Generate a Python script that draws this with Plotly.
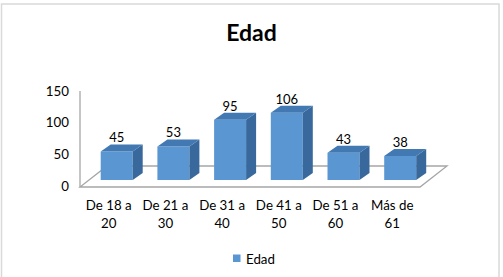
import plotly.graph_objects as go

# ---- data ----
categories = ["De 18 a<br>20", "De 21 a<br>30", "De 31 a<br>40", "De 41 a<br>50", "De 51 a<br>60", "Más de<br>61"]
values = [45, 53, 95, 106, 43, 38]
series_name = "Edad"
y_tickvals = [0, 50, 100, 150]

# ---- style / geometry (pixels) ----
W, H = 503, 277
L, R, T, B = 78, 43, 60, 87
PX_PER_CAT = 56.7
FIRST_CENTER_PX = 116.7
PX_PER_UNIT = 95 / 150
ZERO_PX = 180
BAR_W_PX = 32
DEPTH_X_PX, DEPTH_Y_PX = 10, 7
LABEL_DROP_PX = 1

FRONT = "#5A97D2"
TOP = "#4279B3"
SIDE = "#39699C"
LINE = "#A6A6A6"
FONT = "Lato"
TXT = "#000000"

pw, ph = W - L - R, H - T - B
x_min = (L - FIRST_CENTER_PX) / PX_PER_CAT
x_max = x_min + pw / PX_PER_CAT
y_max = (ZERO_PX - T) / PX_PER_UNIT
y_min = y_max - ph / PX_PER_UNIT

def xd(px):
    return (px - FIRST_CENTER_PX) / PX_PER_CAT

def yd(py):
    return (ZERO_PX - py) / PX_PER_UNIT

def xp(px):
    return (px - L) / pw

def yp(py):
    return (H - B - py) / ph

bw = BAR_W_PX / PX_PER_CAT
dx = DEPTH_X_PX / PX_PER_CAT
dy = DEPTH_Y_PX / PX_PER_UNIT
xs = list(range(len(values)))

# faces
top_x, top_y, side_x, side_y = [], [], [], []
for i, v in zip(xs, values):
    a, b = i - bw / 2, i + bw / 2
    top_x += [a, b, b + dx, a + dx, a, None]
    top_y += [v, v, v + dy, v + dy, v, None]
    side_x += [b, b + dx, b + dx, b, b, None]
    side_y += [0, dy, v + dy, v, 0, None]

fig = go.Figure()
fig.add_trace(go.Bar(x=xs, y=values, width=bw, marker=dict(color=FRONT, line=dict(width=0)),
                     showlegend=False, hoverinfo="skip"))
fig.add_trace(go.Scatter(x=side_x, y=side_y, fill="toself", fillcolor=SIDE, mode="lines",
                         line=dict(width=0, color=SIDE), showlegend=False, hoverinfo="skip"))
fig.add_trace(go.Scatter(x=top_x, y=top_y, fill="toself", fillcolor=TOP, mode="lines",
                         line=dict(width=0, color=TOP), showlegend=False, hoverinfo="skip"))
fig.add_trace(go.Scatter(x=xs, y=[v + dy - LABEL_DROP_PX / PX_PER_UNIT for v in values], mode="text",
                         text=[str(v) for v in values], textposition="top center",
                         textfont=dict(family=FONT, size=13, color=TXT), showlegend=False,
                         hoverinfo="skip", cliponaxis=False))

# floor & wall lines
fl, fr = xd(80), xd(420)
bl, br = xd(107), xd(447)
yf, yb = yd(187), yd(166)
shapes = [
    dict(type="path", xref="x", yref="y", layer="below",
         path=f"M{fl},{yf} L{fr},{yf} L{br},{yb} L{bl},{yb} Z",
         line=dict(color=LINE, width=1.3), fillcolor="rgba(0,0,0,0)"),
    dict(type="line", xref="x", yref="y", layer="below", x0=fl, x1=fl, y0=yf, y1=yd(91),
         line=dict(color=LINE, width=1.3)),
    dict(type="rect", xref="paper", yref="paper",
         x0=xp(1.5), x1=xp(499), y0=yp(290), y1=yp(4),
         line=dict(color="#D9D9D9", width=1.5), fillcolor="rgba(0,0,0,0)"),
    # legend key
    dict(type="rect", xref="paper", yref="paper",
         x0=xp(233), x1=xp(240.5), y0=yp(262), y1=yp(254.5),
         line=dict(width=0), fillcolor=FRONT),
]
annotations = [
    dict(text=series_name, xref="paper", yref="paper", x=xp(244), y=yp(258.5),
         xanchor="left", yanchor="middle", showarrow=False,
         font=dict(family=FONT, size=13.3, color=TXT)),
]

fig.update_layout(
    width=W, height=H, margin=dict(l=L, r=R, t=T, b=B),
    paper_bgcolor="white", plot_bgcolor="rgba(0,0,0,0)",
    font=dict(family=FONT, size=13, color=TXT),
    title=dict(text="<b>Edad</b>", x=0.5, xref="container", xanchor="center",
               y=1 - 33 / H, yref="container", yanchor="middle",
               font=dict(family=FONT, size=23, color=TXT)),
    xaxis=dict(range=[x_min, x_max], tickvals=xs, ticktext=categories, showgrid=False,
               zeroline=False, showline=False, ticks="", ticklabelshift=-8,
               ticklabelstandoff=6, tickfont=dict(family=FONT, size=13.3, color=TXT)),
    yaxis=dict(range=[y_min, y_max], tickvals=y_tickvals, showgrid=False, zeroline=False,
               showline=False, ticks="", ticklabelshift=6, ticklabelstandoff=8,
               tickfont=dict(family=FONT, size=13.3, color=TXT)),
    showlegend=False,
    shapes=shapes,
    annotations=annotations,
)
fig.write_html("out.html")
